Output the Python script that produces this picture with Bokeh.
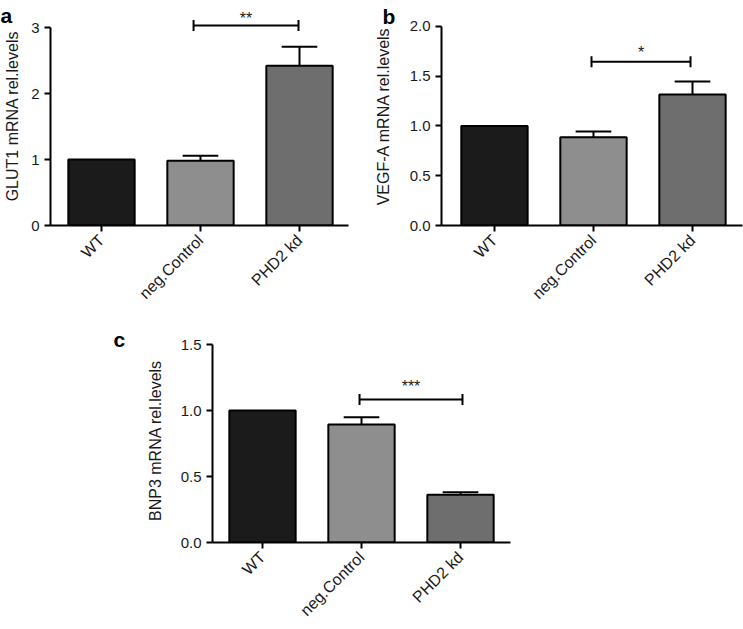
import math
from bokeh.plotting import figure
from bokeh.models import FixedTicker, Spacer, ColumnDataSource
from bokeh.layouts import row, column
from bokeh.embed import file_html
from bokeh.resources import INLINE
from bokeh.core.properties import value

# ---------------- data ----------------
categories = ["WT", "neg.Control", "PHD2 kd"]
bar_colors = ["#1b1b1b", "#8e8e8e", "#6e6e6e"]

glut1_mean = [1.00, 0.98, 2.42]
glut1_sem = [0.0, 0.076, 0.29]
glut1_ticks = [0, 1, 2, 3]

vegfa_mean = [1.00, 0.886, 1.315]
vegfa_sem = [0.0, 0.057, 0.13]
vegfa_ticks = [0.0, 0.5, 1.0, 1.5, 2.0]

bnp3_mean = [1.00, 0.894, 0.361]
bnp3_sem = [0.0, 0.055, 0.02]
bnp3_ticks = [0.0, 0.5, 1.0, 1.5]

# significance brackets: from category, to category, bracket level, star text, star baseline
glut1_sig = (0.93, 1.99, 3.03, "**", 3.135)
vegfa_sig = (0.98, 1.98, 1.645, "*", 1.735)
bnp3_sig = (0.98, 2.02, 1.083, "***", 1.18)

panel_letters = ["a", "b", "c"]

FONT = "Liberation Sans"
TXT = "#1a1a1a"


def make_panel(means, sems, ticks, fmt, ylabel, y_end, x_start, x_end,
               fw, fh, bl, bt, bb, br, lab_standoff, sig):
    p = figure(frame_width=fw, frame_height=fh,
               x_range=(x_start, x_end), y_range=(0, y_end),
               output_backend="svg", toolbar_location=None,
               min_border_left=bl, min_border_top=bt,
               min_border_bottom=bb, min_border_right=br)
    p.outline_line_color = None
    p.grid.visible = False
    p.background_fill_color = None
    p.border_fill_color = None

    xs = list(range(len(categories)))
    src = ColumnDataSource(dict(x=xs, top=means, color=bar_colors))
    p.vbar(x="x", top="top", bottom=0, width=0.67, fill_color="color",
           line_color="black", line_width=2, source=src)

    ex = [x for x, s in zip(xs, sems) if s > 0]
    e0 = [m for m, s in zip(means, sems) if s > 0]
    e1 = [m + s for m, s in zip(means, sems) if s > 0]
    p.segment(x0=ex, y0=e0, x1=ex, y1=e1, line_color="black", line_width=2)
    p.segment(x0=[x - 0.18 for x in ex], y0=e1, x1=[x + 0.18 for x in ex], y1=e1,
              line_color="black", line_width=2)

    x0, x1, yb, stars, ys = sig
    p.segment(x0=[x0], y0=[yb], x1=[x1], y1=[yb], line_color="black", line_width=2)
    p.scatter(x=[x0, x1], y=[yb, yb], marker="dash", size=11, angle=math.pi / 2,
              line_color="black", line_width=2)
    p.text(x=[(x0 + x1) / 2], y=[ys], text=[stars], text_align="center",
           text_baseline="alphabetic", text_font=value(FONT),
           text_font_size="16px", text_color=TXT)

    for ax in (p.xaxis[0], p.yaxis[0]):
        ax.axis_line_width = 2
        ax.axis_line_color = "black"
        ax.major_tick_line_width = 2
        ax.major_tick_line_color = "black"
        ax.major_tick_out = 6
        ax.major_tick_in = 0
        ax.minor_tick_line_color = None
        ax.major_label_text_font = FONT
        ax.major_label_text_color = TXT

    p.yaxis.ticker = FixedTicker(ticks=ticks)
    p.yaxis.major_label_overrides = {t: fmt.format(t) for t in ticks}
    p.yaxis.bounds = (0, ticks[-1])
    p.yaxis.major_label_text_font_size = "15px"
    p.yaxis.major_label_standoff = 5
    p.yaxis.axis_label = ylabel
    p.yaxis.axis_label_text_font = FONT
    p.yaxis.axis_label_text_font_style = "normal"
    p.yaxis.axis_label_text_font_size = "16px"
    p.yaxis.axis_label_text_color = TXT
    p.yaxis.axis_label_standoff = lab_standoff

    p.xaxis.ticker = FixedTicker(ticks=xs)
    p.xaxis.major_label_overrides = {x: c for x, c in zip(xs, categories)}
    p.xaxis.major_label_orientation = math.pi / 4
    p.xaxis.major_label_text_font_size = "16px"
    p.xaxis.major_label_standoff = 6
    return p


pa = make_panel(glut1_mean, glut1_sem, glut1_ticks, "{:.0f}", "GLUT1 mRNA rel.levels",
                219 / 66, -0.515, 2.495, 298, 219, 50, 6, 88, 22, 7, glut1_sig)
pb = make_panel(vegfa_mean, vegfa_sem, vegfa_ticks, "{:.1f}", "VEGF-A mRNA rel.levels",
                219 / 99.6, -0.535, 2.505, 301, 219, 71, 6, 88, 1, 15, vegfa_sig)
pc = make_panel(bnp3_mean, bnp3_sem, bnp3_ticks, "{:.1f}", "BNP3 mRNA rel.levels",
                204 / 132, -0.505, 2.505, 298, 204, 72, 25, 88, 20, 14, bnp3_sig)

# layer underneath the (transparent) panels carrying the panel letters
OV_W, OV_H = 743, 360
ov = figure(width=OV_W, height=OV_H, x_range=(0, OV_W), y_range=(OV_H, 0),
            output_backend="svg", toolbar_location=None,
            x_axis_location=None, y_axis_location=None,
            min_border=0, min_border_left=0, min_border_right=0,
            min_border_top=0, min_border_bottom=0)
ov.outline_line_color = None
ov.grid.visible = False
ov.background_fill_color = None
ov.border_fill_color = None
ov.text(x=[0, 382, 113], y=[15, 16, 339], text=panel_letters,
        text_font=value(FONT), text_font_style="bold", text_font_size="21px",
        text_color="black", text_align="left", text_baseline="alphabetic")
ov.margin = (0, 0, -OV_H, 0)

layout = column(ov,
                row(pa, pb, spacing=0),
                row(Spacer(width=140, height=10), pc, spacing=0),
                spacing=0)

open("out.html", "w").write(file_html(layout, INLINE))
